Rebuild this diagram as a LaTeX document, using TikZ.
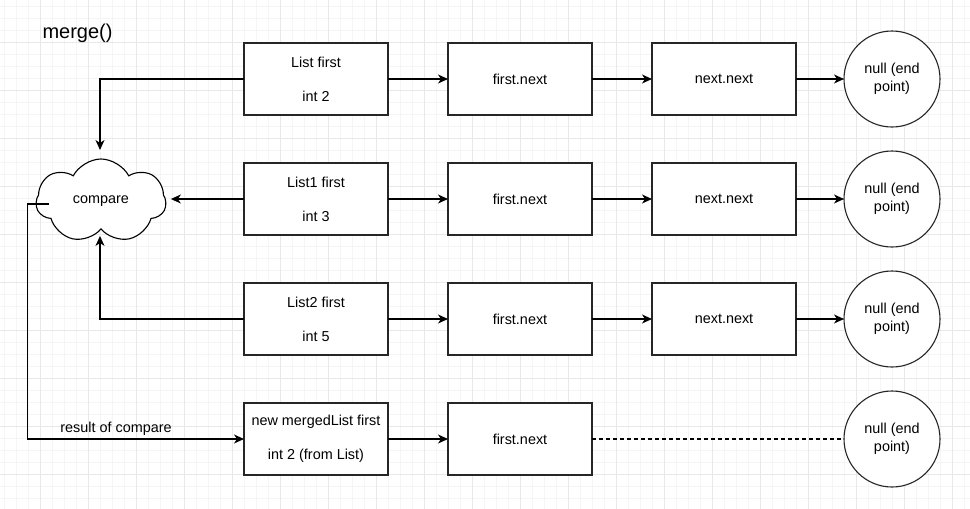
\documentclass[tikz,border=0pt]{standalone}
\usepackage{fontspec}
\setmainfont{Liberation Sans}
\usetikzlibrary{shapes.geometric, shapes.symbols, arrows.meta, positioning}
\tikzset{
    listnode/.style={rectangle, minimum width=144pt, minimum height=72pt, inner sep=0pt, outer sep=0pt, align=center, draw=black!85, fill=white, line width=1.1pt, font=\fontsize{14.4}{17}\selectfont},
    endpoint/.style={circle, minimum size=96pt, inner sep=0pt, outer sep=0pt, align=center, draw=black!85, fill=white, line width=1.1pt, font=\fontsize{14.4}{18.5}\selectfont},
    comparecloud/.style={cloud, cloud puffs=7, cloud puff arc=125, aspect=1.55, minimum width=130pt, minimum height=84pt, inner sep=0pt, outer sep=0pt, draw=black, fill=white, line width=1.1pt, font=\fontsize{14.4}{17}\selectfont},
    arrow/.style={line width=1.1pt, -{Stealth[length=10pt, width=9pt, inset=3pt]}},
    gridminor/.style={draw=black!4, line width=0.8pt},
    gridmajor/.style={draw=black!9, line width=0.9pt}
}

\begin{document}
\begin{tikzpicture}[x=1pt, y=-1pt, node distance=48pt and 60pt]
    \fill[white] (0,0) rectangle (970,509);
    \useasboundingbox (0,0) rectangle (970,509);
    \foreach \x in {4,16,...,964} \draw[gridminor] (\x,0) -- (\x,509);
    \foreach \y in {6,18,...,506} \draw[gridminor] (0,\y) -- (970,\y);
    \foreach \x in {40,88,...,952} \draw[gridmajor] (\x,0) -- (\x,509);
    \foreach \y in {42,90,...,474} \draw[gridmajor] (0,\y) -- (970,\y);

    \node (title) [anchor=west, font=\fontsize{20}{24}\selectfont] at (39,33) {merge()};

    \node (list1) [listnode] at (316,79) {List first\\[17pt]int 2};
    \node (next1) [listnode, right=of list1] {first.next};
    \node (nnext1) [listnode, right=of next1] {next.next};
    \node (null1) [endpoint, right=48pt of nnext1] {null (end\\point)};

    \node (list2) [listnode, below=of list1] {List1 first\\[17pt]int 3};
    \node (next2) [listnode, right=of list2] {first.next};
    \node (nnext2) [listnode, right=of next2] {next.next};
    \node (null2) [endpoint, right=48pt of nnext2] {null (end\\point)};

    \node (list3) [listnode, below=of list2] {List2 first\\[17pt]int 5};
    \node (next3) [listnode, right=of list3] {first.next};
    \node (nnext3) [listnode, right=of next3] {next.next};
    \node (null3) [endpoint, right=48pt of nnext3] {null (end\\point)};

    \node (merged) [listnode, below=of list3] {new mergedList first\\[17pt]int 2 (from List)};
    \node (mnext) [listnode, right=of merged] {first.next};
    \node (mnull) [endpoint, below=24pt of null3] {null (end\\point)};

    \node (cmp) [comparecloud] at (101,201) {compare};

    \draw [arrow] (list1) -- (next1);
    \draw [arrow] (next1) -- (nnext1);
    \draw [arrow] (nnext1) -- (null1);
    \draw [arrow] (list2) -- (next2);
    \draw [arrow] (next2) -- (nnext2);
    \draw [arrow] (nnext2) -- (null2);
    \draw [arrow] (list3) -- (next3);
    \draw [arrow] (next3) -- (nnext3);
    \draw [arrow] (nnext3) -- (null3);
    \draw [arrow] (merged) -- (mnext);
    \draw [line width=1.1pt, dash pattern=on 4pt off 3pt] (mnext) -- (mnull);

    \draw [arrow, shorten >=9pt] (list1.west) -| ([xshift=-1pt]cmp.north);
    \draw [arrow, shorten >=5pt] (list2.west) -- (list2.west -| cmp.east);
    \draw [arrow, shorten >=7pt] (list3.west) -| ([xshift=-1pt]cmp.south);
    \draw [arrow] ([xshift=13pt, yshift=-3pt]cmp.west) -- ++(-22pt,0pt) |- node[pos=0.705, above, font=\fontsize{14.4}{17}\selectfont] {result of compare} (merged.west);
\end{tikzpicture}
\end{document}
